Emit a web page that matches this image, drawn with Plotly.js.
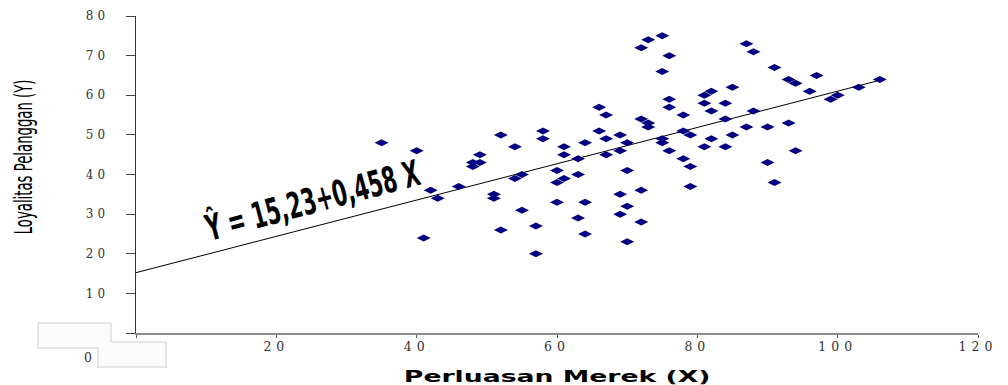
<!DOCTYPE html>
<html>
<head>
<meta charset="utf-8">
<script src="https://cdn.plot.ly/plotly-3.0.1.min.js"></script>
<style>
html,body{margin:0;padding:0;background:#fff;}
#chart{width:1008px;height:385px;}
.xtick text{letter-spacing:5px;}
.ytick text{letter-spacing:4px;}
.annotation[data-index="0"] text{transform-box:fill-box;transform-origin:center;transform:scaleX(0.53);}
.annotation[data-index="1"] text{transform-box:fill-box;transform-origin:center;transform:scaleX(1.72);}
.annotation[data-index="3"] text{transform-box:fill-box;transform-origin:center;transform:scaleX(0.58);}
</style>
</head>
<body>
<div id="chart"></div>
<script>
// Perluasan Merek (X)
const perluasanMerek = [35,40,41,42,43,46,48,48,49,49,51,51,52,52,54,54,55,55,57,57,
  58,58,60,60,61,60,61,61,63,63,63,64,64,64,66,66,67,67,67,69,
  69,69,69,70,70,70,70,72,72,72,73,73,72,73,75,76,75,75,75,76,
  76,76,78,78,79,78,79,79,81,82,81,84,82,82,81,84,84,85,85,87,
  88,88,87,90,90,91,91,93,94,93,94,96,97,99,100,103,106];
// Loyalitas Pelanggan (Y)
const loyalitasPelanggan = [48,46,24,36,34,37,42,43,43,45,35,34,50,26,47,39,40,31,27,20,
  51,49,41,38,39,33,47,45,44,40,29,48,33,25,51,57,55,49,45,50,
  46,35,30,48,41,32,23,36,28,54,53,52,72,74,75,70,66,49,48,46,
  59,57,55,51,50,44,42,37,60,61,58,58,56,49,47,47,54,50,62,73,
  71,56,52,52,43,38,67,64,63,53,46,61,65,59,60,62,64];

const intercept = 15.23;
const slope = 0.458;
const lineX = [0, 106];
const lineY = lineX.map(v => intercept + slope * v);

const xTickVals = [0,20,40,60,80,100,120];
const xTickText = ['', '20','40','60','80','100','120'];
const yTickVals = [0,10,20,30,40,50,60,70,80];
const yTickText = ['', '10','20','30','40','50','60','70','80'];

const equationText = 'Ŷ = 15,23+0,458 X';
const xTitle = 'Perluasan Merek (X)';
const yTitle = 'Loyalitas Pelanggan (Y)';

// plot area in pixels: l=136, t=16, w=842, h=317
const L = 136, T = 16, W = 842, H = 317;
const px = v => (v - L) / W;
const py = v => (T + H - v) / H;

const boxPath = 'M' + px(38) + ',' + py(323) + ' L' + px(111) + ',' + py(323) +
  ' L' + px(111) + ',' + py(342) + ' L' + px(166) + ',' + py(342) +
  ' L' + px(166) + ',' + py(367) + ' L' + px(98) + ',' + py(367) +
  ' L' + px(98) + ',' + py(348) + ' L' + px(38) + ',' + py(348) + ' Z';

const traces = [
  {
    x: lineX, y: lineY, mode: 'lines', type: 'scatter',
    line: {color: '#000000', width: 1}, hoverinfo: 'skip', cliponaxis: false
  },
  {
    x: perluasanMerek, y: loyalitasPelanggan, mode: 'markers', type: 'scatter',
    marker: {symbol: 'diamond-wide', size: 10, color: '#000080', line: {width: 0}},
    cliponaxis: false
  }
];

const layout = {
  width: 1008, height: 385,
  margin: {l: L, r: 1008 - L - W, t: T, b: 385 - T - H},
  paper_bgcolor: '#ffffff', plot_bgcolor: '#ffffff',
  showlegend: false,
  xaxis: {
    range: [0, 120], tickvals: xTickVals, ticktext: xTickText,
    showgrid: false, zeroline: false, showline: true, linecolor: '#8c8c8c', linewidth: 1.5,
    ticks: 'outside', ticklen: 3, tickcolor: '#555', tickwidth: 1,
    tickfont: {family: 'DejaVu Serif', size: 12.5, color: '#333'},
    ticklabelstandoff: -2
  },
  yaxis: {
    range: [0, 80], tickvals: yTickVals, ticktext: yTickText,
    showgrid: false, zeroline: false, showline: true, linecolor: '#333', linewidth: 1.5,
    ticks: 'outside', ticklen: 9, tickcolor: '#444', tickwidth: 1,
    tickfont: {family: 'DejaVu Serif', size: 12, color: '#333'},
    ticklabelstandoff: 14
  },
  shapes: [
    {type: 'path', xref: 'paper', yref: 'paper', path: boxPath,
     fillcolor: '#fbfbfb', line: {color: '#cfcfcf', width: 1}, layer: 'above'}
  ],
  annotations: [
    {xref: 'paper', yref: 'paper', x: px(23), y: py(157), xanchor: 'center', yanchor: 'middle',
     text: yTitle, showarrow: false, textangle: -90,
     font: {family: 'DejaVu Sans', size: 25, color: '#000'}},
    {xref: 'paper', yref: 'paper', x: px(557), y: py(377), xanchor: 'center', yanchor: 'middle',
     text: xTitle, showarrow: false,
     font: {family: 'DejaVu Sans', size: 15.5, weight: 'bold', color: '#000'}},
    {xref: 'paper', yref: 'paper', x: px(88), y: py(357), xanchor: 'center', yanchor: 'middle',
     text: '0', showarrow: false,
     font: {family: 'DejaVu Serif', size: 12.5, color: '#333'}},
    {xref: 'x', yref: 'y', x: 25.2, y: 33.5, xanchor: 'center', yanchor: 'middle',
     text: equationText, showarrow: false, textangle: -15,
     font: {family: 'DejaVu Sans', size: 36, weight: 'bold', color: '#000'}}
  ]
};

Plotly.newPlot('chart', traces, layout, {displayModeBar: false, staticPlot: true});
</script>
</body>
</html>
